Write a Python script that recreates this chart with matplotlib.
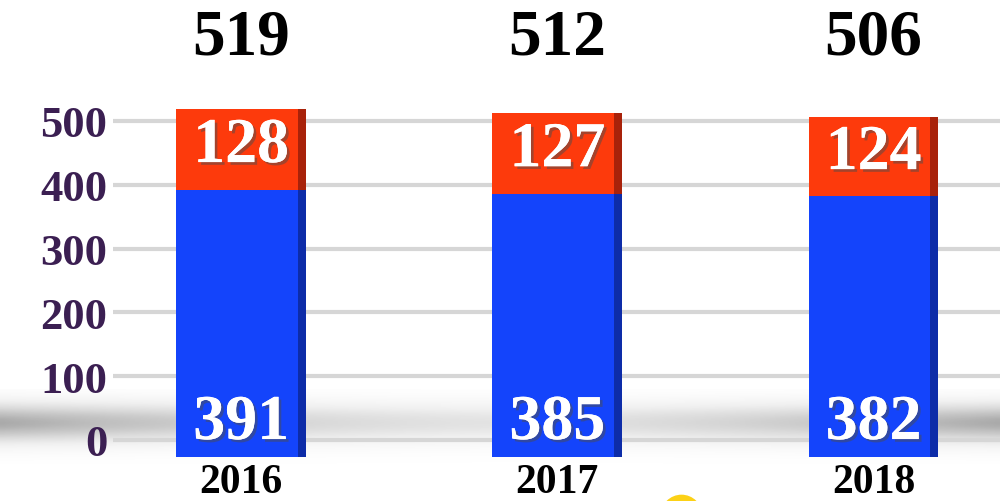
import numpy as np
import matplotlib.pyplot as plt
import matplotlib.patheffects as pe

# data
years = ["2016", "2017", "2018"]
lower = [391, 385, 382]
upper = [128, 127, 124]
totals = [519, 512, 506]
yticks = [0, 100, 200, 300, 400, 500]

BLUE = "#1444fb"
RED = "#fd3a0c"
LABEL = "#3b1f52"

plt.rcParams["font.family"] = ["Liberation Serif", "DejaVu Serif"]
plt.rcParams["font.weight"] = "bold"

fig = plt.figure(figsize=(10, 5.02), dpi=100)

# soft floor shadow across the whole width, behind everything
bg = fig.add_axes([0, 0, 1, 1], zorder=0)
bg.set_xlim(0, 1000)
bg.set_ylim(502, 0)
bg.axis("off")
yy = np.linspace(0, 1, 80)
band = np.exp(-((yy - 0.55) ** 2) / 0.07)
xx = np.linspace(-1, 1, 200)
edge = 0.45 + 0.55 * np.abs(xx) ** 1.5
grad = band[:, None] * edge[None, :]
bg.imshow(grad, extent=(0, 1000, 465, 390), origin="lower", cmap="Greys",
          vmin=0, vmax=2.3, aspect="auto")

ax = fig.add_axes([0.113, 0.0, 0.887, 1.0], zorder=1)
ax.patch.set_alpha(0)
ax.set_xlim(-0.405, 2.40)
ax.set_ylim(-95.6, 691)

for t in yticks:
    ax.axhline(t, color="#d6d6d6", lw=3, zorder=1)

x = np.arange(len(years))
w = 0.41
base = -27
ax.bar(x, np.array(lower) - base, bottom=base, width=w, color=BLUE, zorder=3)
ax.bar(x, upper, bottom=lower, width=w, color=RED, zorder=3)
# dark side face for a 3D look
side = 0.025
ax.bar(x + w / 2 - side / 2, np.array(lower) - base, bottom=base, width=side,
       color="#0d2ca8", zorder=4)
ax.bar(x + w / 2 - side / 2, upper, bottom=lower, width=side,
       color="#a8220a", zorder=4)

shadow = [pe.withSimplePatchShadow(offset=(2, -2), alpha=0.5), pe.Normal()]
for i in range(len(years)):
    ax.text(x[i], 25, str(lower[i]), ha="center", va="center",
            color="white", fontsize=46, fontweight="bold", zorder=5,
            path_effects=shadow)
    ax.text(x[i], lower[i] + upper[i] / 2 + 4, str(upper[i]), ha="center",
            va="center", color="white", fontsize=46, fontweight="bold",
            zorder=5, path_effects=shadow)
    ax.text(x[i], 630, str(totals[i]), ha="center", va="center",
            color="black", fontsize=47, fontweight="bold", zorder=5)
    ax.text(x[i], -66, years[i], ha="center", va="center", color="black",
            fontsize=30, fontweight="bold", zorder=5)

ax.set_yticks(yticks)
ax.set_yticklabels([str(t) for t in yticks], color=LABEL, fontsize=32,
                   fontweight="bold")
ax.tick_params(axis="y", length=0, pad=4)
ax.set_xticks([])
for s in ax.spines.values():
    s.set_visible(False)

# yellow dot at the bottom edge
ax.scatter([1.39], [-118], s=900, color="#fcd116", clip_on=False, zorder=6,
           linewidths=0)

fig.savefig("out.png", dpi=100)
